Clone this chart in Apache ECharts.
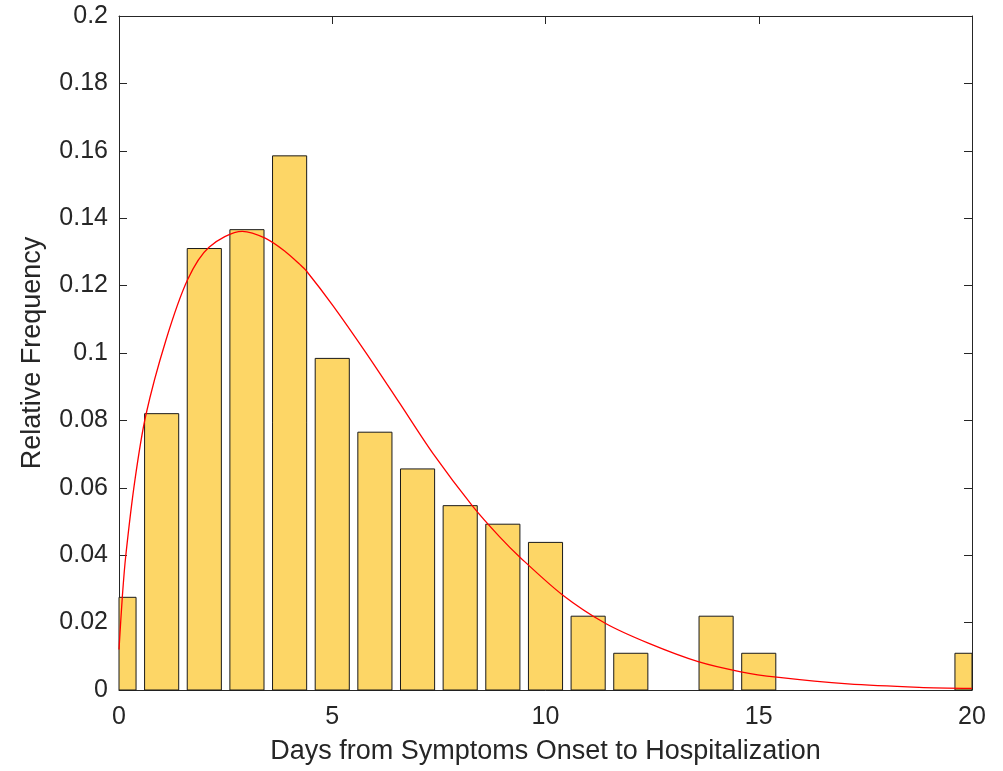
<!DOCTYPE html>
<html>
<head>
<meta charset="utf-8">
<script src="https://cdn.jsdelivr.net/npm/echarts@6/dist/echarts.min.js"></script>
<style>
  html, body { margin: 0; padding: 0; background: #fff; }
  #main { width: 1003px; height: 771px; }
</style>
</head>
<body>
<div id="main"></div>
<script>
var days = [0, 1, 2, 3, 4, 5, 6, 7, 8, 9, 10, 11, 12, 13, 14, 15, 16, 17, 18, 19, 20];
var relFreq = [0.0275, 0.082, 0.131, 0.1366, 0.1585, 0.0984, 0.0765, 0.0656, 0.0547, 0.0492, 0.0438,
  0.0219, 0.0109, 0, 0.0219, 0.0109, 0, 0, 0, 0, 0.0109];

// fitted curve
var fitX = [0, 0.08, 0.16, 0.37, 0.63, 1.10, 1.61, 2.11, 2.89, 3.44, 3.91, 4.24, 4.39, 5.02, 5.80, 6.58,
  7.36, 8.30, 8.92, 9.40, 10.40, 11.40, 12.41, 13.58, 14.58, 15.42, 17.09, 18.76, 20];
var fitY = [0.012, 0.028, 0.040, 0.062, 0.0816, 0.1038, 0.1218, 0.1314, 0.1361, 0.1340, 0.1300, 0.1263,
  0.1244, 0.1140, 0.0999, 0.0851, 0.0702, 0.0544, 0.0455, 0.0394, 0.0282, 0.0198, 0.0139, 0.0084, 0.0054,
  0.0038, 0.0018, 0.0008, 0.0005];

var chartDom = document.getElementById('main');
var myChart = echarts.init(chartDom);
var option;

var axisColor = '#262626';
var font = 'Liberation Sans, Arial, sans-serif';

// zero-height bins are not drawn
var barData = [];
days.forEach(function (d, i) {
  if (relFreq[i] > 0) barData.push([d, relFreq[i]]);
});
var fitData = fitX.map(function (x, i) { return [x, fitY[i]]; });

function renderBar(params, api) {
  var x = api.value(0);
  var y = api.value(1);
  var p0 = api.coord([x - 0.4, y]);
  var p1 = api.coord([x + 0.4, 0]);
  var rect = echarts.graphic.clipRectByRect(
    { x: p0[0], y: p0[1], width: p1[0] - p0[0], height: p1[1] - p0[1] },
    {
      x: params.coordSys.x,
      y: params.coordSys.y,
      width: params.coordSys.width,
      height: params.coordSys.height
    }
  );
  if (!rect) return;
  return {
    type: 'rect',
    shape: rect,
    style: { fill: '#FDD666', stroke: '#1a1a1a', lineWidth: 1 }
  };
}

option = {
  animation: false,
  textStyle: { fontFamily: font },
  grid: { left: 119, right: 31, top: 16, bottom: 81 },
  xAxis: [
    {
      type: 'value',
      min: 0,
      max: 20,
      interval: 5,
      name: 'Days from Symptoms Onset to Hospitalization',
      nameLocation: 'middle',
      nameGap: 48,
      nameTextStyle: { fontSize: 27, color: axisColor, fontFamily: font },
      axisLine: { show: true, onZero: false, lineStyle: { color: axisColor, width: 1 } },
      axisTick: { show: true, inside: true, length: 8, lineStyle: { color: axisColor } },
      axisLabel: { fontSize: 25, color: axisColor, margin: 15, fontFamily: font },
      splitLine: { show: false }
    },
    {
      type: 'value',
      position: 'top',
      min: 0,
      max: 20,
      interval: 5,
      axisLine: { show: true, onZero: false, lineStyle: { color: axisColor, width: 1 } },
      axisTick: { show: true, inside: true, length: 8, lineStyle: { color: axisColor } },
      axisLabel: { show: false },
      splitLine: { show: false }
    }
  ],
  yAxis: [
    {
      type: 'value',
      min: 0,
      max: 0.2,
      interval: 0.02,
      name: 'Relative Frequency',
      nameLocation: 'middle',
      nameGap: 73,
      nameTextStyle: { fontSize: 27, color: axisColor, fontFamily: font },
      axisLine: { show: true, onZero: false, lineStyle: { color: axisColor, width: 1 } },
      axisTick: { show: true, inside: true, length: 8, lineStyle: { color: axisColor } },
      axisLabel: { fontSize: 25, color: axisColor, margin: 11, fontFamily: font },
      splitLine: { show: false }
    },
    {
      type: 'value',
      position: 'right',
      min: 0,
      max: 0.2,
      interval: 0.02,
      axisLine: { show: true, onZero: false, lineStyle: { color: axisColor, width: 1 } },
      axisTick: { show: true, inside: true, length: 8, lineStyle: { color: axisColor } },
      axisLabel: { show: false },
      splitLine: { show: false }
    }
  ],
  series: [
    {
      type: 'custom',
      renderItem: renderBar,
      data: barData,
      encode: { x: 0, y: 1 }
    },
    {
      type: 'line',
      data: fitData,
      smooth: 0.3,
      showSymbol: false,
      clip: true,
      lineStyle: { color: '#FF0000', width: 1.3 }
    }
  ]
};

option && myChart.setOption(option);
</script>
</body>
</html>
